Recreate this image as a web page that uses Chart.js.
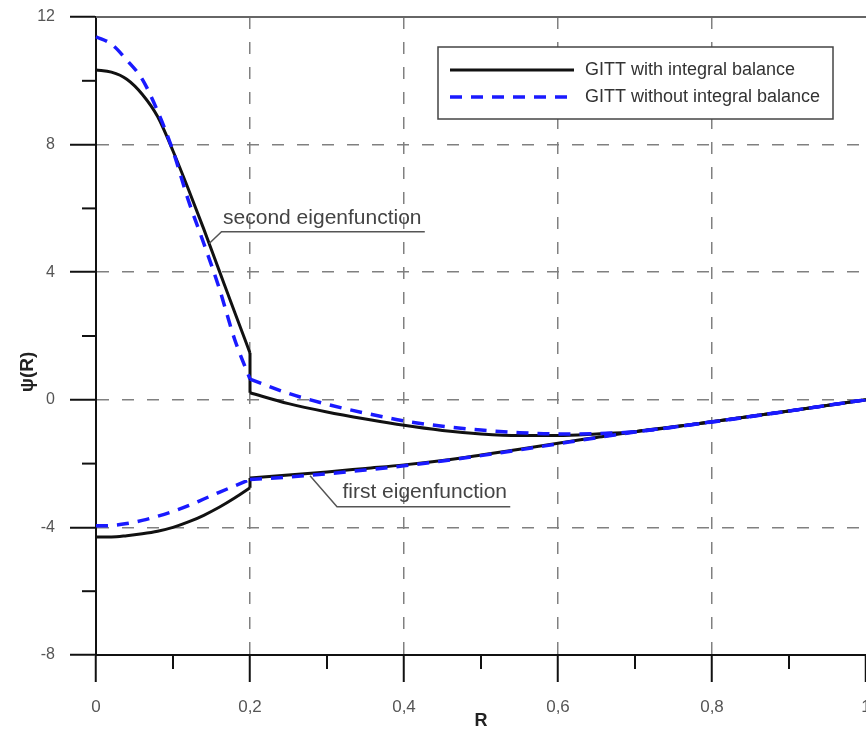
<!DOCTYPE html>
<html>
<head>
<meta charset="utf-8">
<script src="https://cdn.jsdelivr.net/npm/chart.js@4.4.1/dist/chart.umd.min.js"></script>
<style>
  html, body { margin: 0; padding: 0; background: #fff; }
  canvas { display: block; }
</style>
</head>
<body>
<canvas id="chart" width="866" height="733"></canvas>
<script>
// R grid (0.2 appears twice: the curves jump there)
const rValues = [0, 0.02, 0.04, 0.06, 0.08, 0.1, 0.12, 0.14, 0.16, 0.18, 0.2,
                 0.2, 0.25, 0.3, 0.35, 0.4, 0.45, 0.5, 0.55, 0.6, 0.65, 0.7, 0.8, 0.9, 1];
const jumpIndex = 11;

const secondWithBalance = [10.34, 10.27, 10.05, 9.58, 8.88, 7.8, 6.6, 5.35, 4.05, 2.75, 1.47,
                           0.22, -0.12, -0.38, -0.6, -0.8, -0.96, -1.07, -1.12, -1.12, -1.07, -1.0, -0.69, -0.35, 0];
const secondWithoutBalance = [11.38, 11.15, 10.65, 10.05, 9.05, 7.8, 6.25, 4.9, 3.5, 1.9, 0.65,
                              0.65, 0.2, -0.14, -0.42, -0.66, -0.83, -0.95, -1.03, -1.07, -1.06, -1.0, -0.69, -0.35, 0];
const firstWithBalance = [-4.3, -4.3, -4.26, -4.2, -4.12, -4.0, -3.83, -3.62, -3.37, -3.08, -2.76,
                          -2.45, -2.36, -2.26, -2.15, -2.04, -1.9, -1.73, -1.55, -1.36, -1.18, -1.0, -0.69, -0.35, 0];
const firstWithoutBalance = [-3.95, -3.94, -3.88, -3.78, -3.65, -3.5, -3.32, -3.11, -2.9, -2.7, -2.5,
                             -2.5, -2.42, -2.32, -2.2, -2.07, -1.92, -1.75, -1.57, -1.38, -1.19, -1.01, -0.7, -0.35, 0];

const xTickValues = [0, 0.2, 0.4, 0.6, 0.8, 1];
const xTickLabels = ['0', '0,2', '0,4', '0,6', '0,8', '1'];
const xMinorTicks = [0.1, 0.3, 0.5, 0.7, 0.9];
const yTickValues = [-8, -4, 0, 4, 8, 12];
const yMinorTicks = [-6, -2, 2, 6, 10];

const legendLabels = ['GITT with integral balance', 'GITT without integral balance'];

const fontFamily = "'Liberation Sans', Arial, sans-serif";
const blackLine = { borderColor: '#111', borderWidth: 3, borderDash: [] };
const blueLine = { borderColor: '#1a1aff', borderWidth: 3.5, borderDash: [12, 9] };

// each curve: smooth piece left of R = 0.2, the jump itself, smooth piece right of it
function pieces(series, label, style, order) {
    const pts = rValues.map((r, i) => ({ x: r, y: series[i] }));
    const parts = [
        { data: pts.slice(0, jumpIndex), mode: 'monotone' },
        { data: pts.slice(jumpIndex - 1, jumpIndex + 1), mode: 'default' },
        { data: pts.slice(jumpIndex), mode: 'monotone' }
    ];
    return parts.map(p => ({
        label: label,
        data: p.data,
        ...style,
        order: order,
        showLine: true,
        pointRadius: 0,
        cubicInterpolationMode: p.mode,
        tension: 0,
        fill: false,
        clip: 4
    }));
}

function interiorGrid(min, max) {
    return ctx => (ctx.tick && (ctx.tick.value === min || ctx.tick.value === max)) ? 'rgba(0,0,0,0)' : '#808080';
}

// minor ticks, top border, annotations, legend and y title
const decorations = {
    id: 'decorations',
    beforeDatasetsDraw(chart) {
        const { ctx, chartArea } = chart;
        ctx.save();
        ctx.strokeStyle = '#666';
        ctx.lineWidth = 2;
        ctx.beginPath();
        ctx.moveTo(chartArea.left, chartArea.top);
        ctx.lineTo(chartArea.right, chartArea.top);
        ctx.stroke();
        ctx.restore();
    },
    afterDraw(chart) {
        const { ctx, chartArea, scales: { x, y } } = chart;
        ctx.save();

        // minor ticks
        ctx.strokeStyle = '#111';
        ctx.lineWidth = 2;
        xMinorTicks.forEach(v => {
            const px = x.getPixelForValue(v);
            ctx.beginPath();
            ctx.moveTo(px, chartArea.bottom);
            ctx.lineTo(px, chartArea.bottom + 14);
            ctx.stroke();
        });
        yMinorTicks.forEach(v => {
            const py = y.getPixelForValue(v);
            ctx.beginPath();
            ctx.moveTo(chartArea.left, py);
            ctx.lineTo(chartArea.left - 14, py);
            ctx.stroke();
        });

        // annotations
        ctx.strokeStyle = '#555';
        ctx.lineWidth = 1.5;
        ctx.fillStyle = '#444';
        ctx.font = '21px ' + fontFamily;
        ctx.textBaseline = 'alphabetic';
        ctx.textAlign = 'left';

        let u = y.getPixelForValue(5.27);
        ctx.beginPath();
        ctx.moveTo(x.getPixelForValue(0.147), y.getPixelForValue(4.9));
        ctx.lineTo(x.getPixelForValue(0.163), u);
        ctx.lineTo(x.getPixelForValue(0.427), u);
        ctx.stroke();
        ctx.fillText('second eigenfunction', x.getPixelForValue(0.165), u - 8);

        u = y.getPixelForValue(-3.35);
        ctx.beginPath();
        ctx.moveTo(x.getPixelForValue(0.278), y.getPixelForValue(-2.38));
        ctx.lineTo(x.getPixelForValue(0.313), u);
        ctx.lineTo(x.getPixelForValue(0.538), u);
        ctx.stroke();
        ctx.fillText('first eigenfunction', x.getPixelForValue(0.32), u - 9);

        // legend
        ctx.fillStyle = '#fff';
        ctx.fillRect(438, 47, 395, 72);
        ctx.strokeStyle = '#444';
        ctx.lineWidth = 1.5;
        ctx.strokeRect(438, 47, 395, 72);
        const styles = [blackLine, blueLine];
        const rows = [70, 97];
        styles.forEach((s, i) => {
            ctx.strokeStyle = s.borderColor;
            ctx.lineWidth = s.borderWidth;
            ctx.setLineDash(s.borderDash);
            ctx.beginPath();
            ctx.moveTo(450, rows[i]);
            ctx.lineTo(574, rows[i]);
            ctx.stroke();
        });
        ctx.setLineDash([]);
        ctx.fillStyle = '#333';
        ctx.font = '18px ' + fontFamily;
        ctx.textBaseline = 'middle';
        legendLabels.forEach((t, i) => ctx.fillText(t, 585, rows[i]));

        // y axis title
        ctx.translate(28, 372);
        ctx.rotate(-Math.PI / 2);
        ctx.textAlign = 'center';
        ctx.fillStyle = '#222';
        ctx.font = 'bold 19px ' + fontFamily;
        ctx.fillText('\u03C8(R)', 0, 0);
        ctx.restore();
    }
};

const datasets = [
    ...pieces(secondWithoutBalance, legendLabels[1], blueLine, 1),
    ...pieces(firstWithoutBalance, legendLabels[1], blueLine, 1),
    ...pieces(secondWithBalance, legendLabels[0], blackLine, 2),
    ...pieces(firstWithBalance, legendLabels[0], blackLine, 2)
];

new Chart(document.getElementById('chart'), {
    type: 'scatter',
    data: { datasets: datasets },
    options: {
        responsive: false,
        animation: false,
        layout: { padding: { top: 17, right: 0, left: 0, bottom: 0 } },
        plugins: { legend: { display: false }, tooltip: { enabled: false } },
        scales: {
            x: {
                type: 'linear',
                min: 0,
                max: 1,
                afterBuildTicks: s => { s.ticks = xTickValues.map(v => ({ value: v })); },
                afterFit: s => { s.height = 78; s.paddingLeft = 0; s.paddingRight = 0; },
                ticks: {
                    callback: (v, i) => xTickLabels[i],
                    color: '#555',
                    font: { family: fontFamily, size: 17 },
                    padding: 15,
                    maxRotation: 0,
                    autoSkip: false
                },
                grid: {
                    color: interiorGrid(0, 1),
                    lineWidth: 1.5,
                    tickColor: '#111',
                    tickLength: 27,
                    tickWidth: 2
                },
                border: { display: true, color: '#111', width: 2, dash: [12, 13] },
                title: {
                    display: true,
                    text: 'R',
                    color: '#222',
                    font: { family: fontFamily, size: 18, weight: 'bold' },
                    padding: { top: 0, bottom: 1 }
                }
            },
            y: {
                type: 'linear',
                min: -8,
                max: 12,
                afterBuildTicks: s => { s.ticks = yTickValues.map(v => ({ value: v })); },
                afterFit: s => { s.width = 96; s.paddingTop = 0; s.paddingBottom = 0; },
                ticks: {
                    color: '#555',
                    font: { family: fontFamily, size: 16 },
                    padding: 15
                },
                grid: {
                    color: interiorGrid(-8, 12),
                    lineWidth: 1.5,
                    tickColor: '#111',
                    tickLength: 26,
                    tickWidth: 2
                },
                border: { display: true, color: '#111', width: 2, dash: [12, 13] }
            }
        }
    },
    plugins: [decorations]
});
</script>
</body>
</html>
